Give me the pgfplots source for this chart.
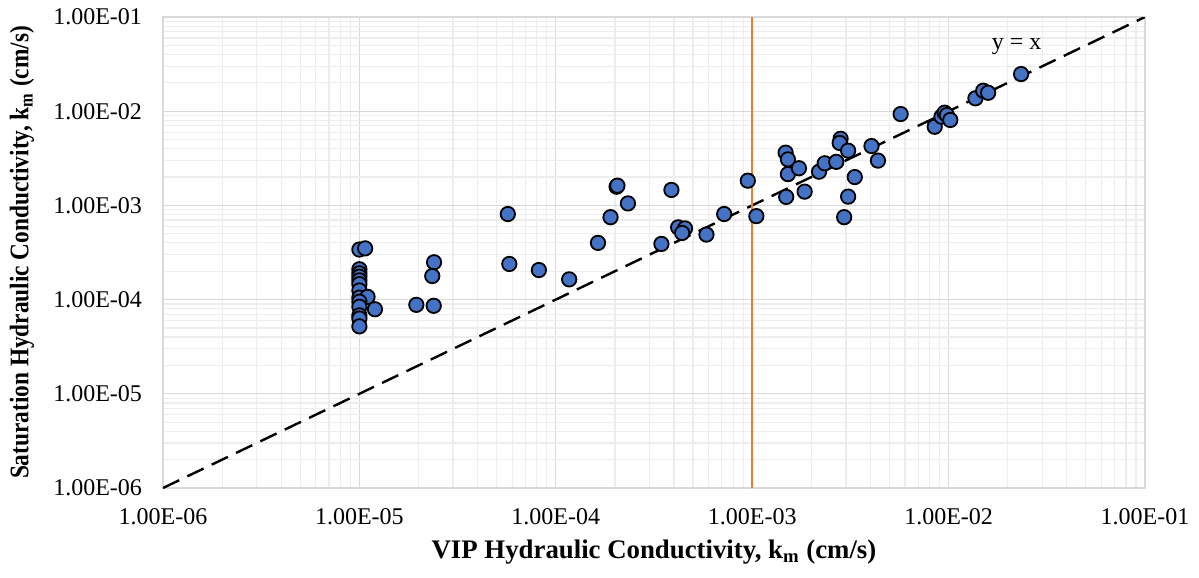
\documentclass[border=0pt]{standalone}
\usepackage{pgfplots}
\pgfplotsset{compat=1.18}
\usepackage{fontspec}
\setmainfont{Liberation Serif}
\definecolor{ptblue}{HTML}{4472C4}
\definecolor{ptorange}{HTML}{ED7D31}
\definecolor{majgrid}{HTML}{D9D9D9}
\definecolor{mingrid}{HTML}{EDEDED}
\begin{document}
\begin{tikzpicture}
\useasboundingbox (-81.5pt,-45pt) rectangle (518pt,244pt);
\begin{axis}[
  scale only axis,
  width=491pt, height=235.5pt,
  xmode=log, ymode=log,
  xmin=1e-6, xmax=1e-1, ymin=1e-6, ymax=1e-1,
  xtick={1e-6,1e-5,1e-4,1e-3,1e-2,1e-1},
  ytick={1e-6,1e-5,1e-4,1e-3,1e-2,1e-1},
  xticklabels={1.00E-06,1.00E-05,1.00E-04,1.00E-03,1.00E-02,1.00E-01},
  yticklabels={1.00E-06,1.00E-05,1.00E-04,1.00E-03,1.00E-02,1.00E-01},
  /pgf/number format/assume math mode=true,
  tick label style={font=\fontsize{12}{14}\selectfont, text=black},
  xticklabel style={yshift=-6.5pt},
  yticklabel style={xshift=-7pt},
  major tick length=0pt, minor tick length=0pt,
  grid=both,
  major grid style={draw=majgrid, line width=0.6pt},
  minor grid style={draw=mingrid, line width=0.6pt},
  axis line style={draw=majgrid, line width=0.6pt},
  xlabel={\textbf{VIP Hydraulic Conductivity, k\textsubscript{m} (cm/s)}},
  ylabel={\scalebox{0.87}[1]{\textbf{Saturation Hydraulic Conductivity, k\textsubscript{m} (cm/s)}}},
  label style={font=\fontsize{13.4}{15}\selectfont},
  xlabel style={at={(axis description cs:0.5,-0.1359)}, anchor=center},
  ylabel style={at={(axis description cs:-0.1436,0.5)}, anchor=center},
]
\addplot[black, line width=1.2pt, dash pattern=on 9pt off 4.5pt] coordinates {(1e-6,1e-6) (1e-1,1e-1)};
\addplot[ptorange, line width=1.2pt] coordinates {(1e-3,1e-6) (1e-3,1e-1)};
\addplot[only marks, mark=*, mark size=3.6pt, mark options={fill=ptblue, draw=black, line width=0.9pt}] coordinates {
(1e-5,3.4e-4) (1.07e-5,3.5e-4) (1e-5,2.1e-4) (1e-5,1.9e-4) (1e-5,1.75e-4)
(1e-5,1.6e-4) (1e-5,1.46e-4) (1e-5,1.25e-4) (1e-5,1.05e-4) (1.1e-5,1.07e-4)
(1e-5,9.5e-5) (1e-5,8.4e-5) (1e-5,6.8e-5) (1e-5,6.3e-5) (1e-5,5.2e-5)
(1.2e-5,7.9e-5)
(1.95e-5,8.8e-5) (2.39e-5,8.6e-5) (2.4e-5,2.49e-4) (2.35e-5,1.78e-4)
(5.7e-5,8.1e-4) (5.8e-5,2.39e-4) (8.2e-5,2.06e-4) (1.17e-4,1.64e-4)
(1.64e-4,4.0e-4) (1.9e-4,7.5e-4) (2.04e-4,1.58e-3) (2.06e-4,1.62e-3)
(2.33e-4,1.05e-3) (3.88e-4,1.46e-3) (3.45e-4,3.9e-4) (4.2e-4,5.85e-4)
(4.55e-4,5.7e-4) (4.4e-4,5.1e-4) (5.85e-4,4.9e-4) (7.2e-4,8.1e-4)
(9.5e-4,1.83e-3) (1.05e-3,7.7e-4) (1.49e-3,1.23e-3) (1.48e-3,3.63e-3)
(1.52e-3,3.08e-3) (1.52e-3,2.15e-3) (1.73e-3,2.48e-3) (1.85e-3,1.4e-3)
(2.19e-3,2.28e-3) (2.34e-3,2.8e-3) (2.68e-3,2.9e-3) (2.82e-3,5.1e-3)
(2.79e-3,4.6e-3) (3.08e-3,3.81e-3) (3.33e-3,2.0e-3) (3.08e-3,1.24e-3)
(2.94e-3,7.5e-4) (4.05e-3,4.27e-3) (4.37e-3,2.99e-3) (5.7e-3,9.33e-3)
(8.5e-3,6.84e-3) (9.2e-3,8.75e-3) (9.55e-3,9.65e-3) (9.8e-3,9.1e-3)
(1.02e-2,8.07e-3) (1.37e-2,1.37e-2) (1.5e-2,1.65e-2) (1.59e-2,1.57e-2)
(2.34e-2,2.48e-2)
};
\node[font=\fontsize{12}{14}\selectfont] at (axis cs:0.0222,0.048) {y = x};
\end{axis}
\end{tikzpicture}
\end{document}
